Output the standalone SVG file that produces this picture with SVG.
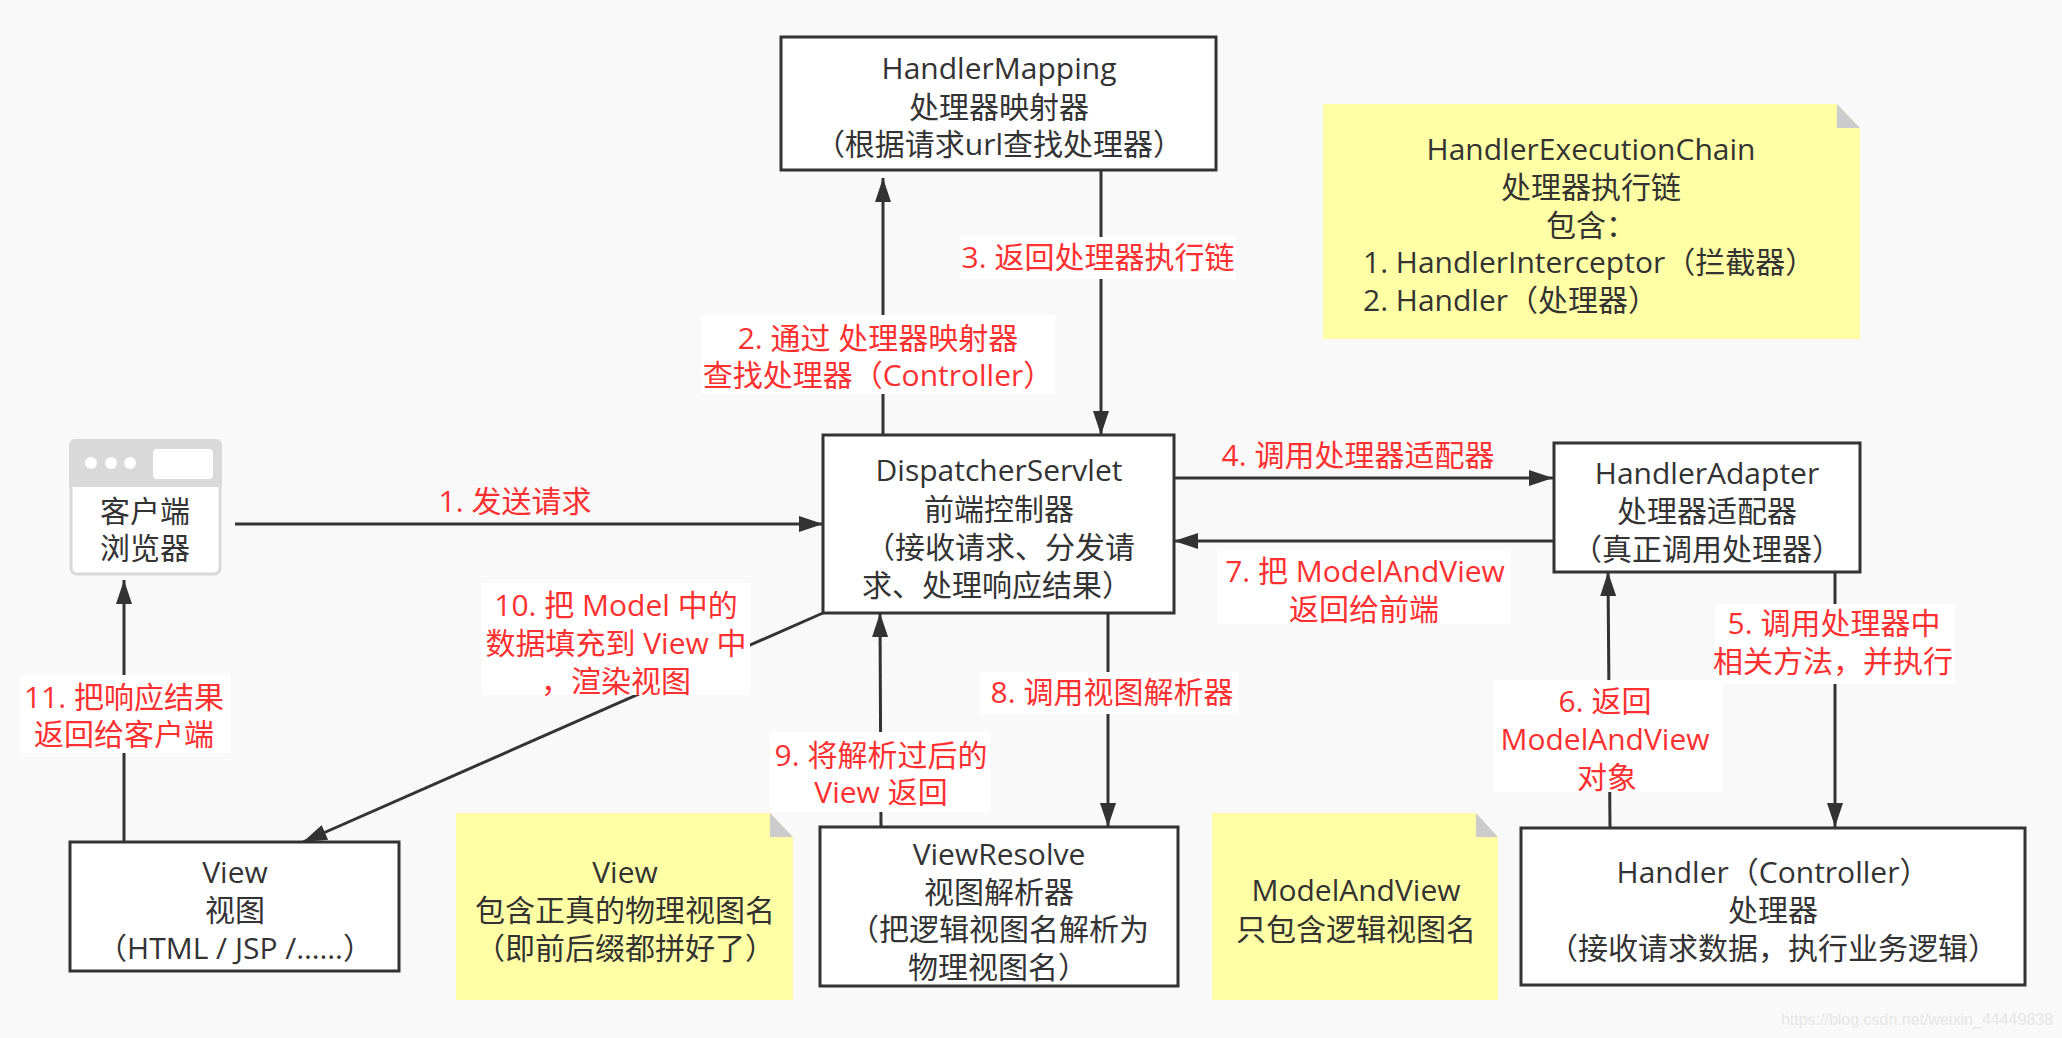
<svg xmlns="http://www.w3.org/2000/svg" width="2062" height="1038" viewBox="0 0 2062 1038">
<style>
text{font-family:"Open Sans","Noto Sans CJK SC",sans-serif;font-size:30px;text-anchor:middle}
.n{fill:#333}
.r{fill:#ff3030}
.box{fill:#fff;stroke:#333;stroke-width:3}
.note{fill:#ffffa6}
.fold{fill:#ccc}
.c{fill:none;stroke:#333;stroke-width:3}
.lb{fill:#fff}
</style>
<defs><marker id="a" markerUnits="userSpaceOnUse" markerWidth="24" markerHeight="16" refX="24" refY="8" viewBox="0 0 24 16" orient="auto"><path d="M0 0L24 8L0 16Z" fill="#333"/></marker></defs>
<rect width="2062" height="1038" fill="#f9f9f9"/>
<g id="connectors">
<path class="c" d="M235 524H823" marker-end="url(#a)"/>
<path class="c" d="M883 435V178" marker-end="url(#a)"/>
<path class="c" d="M1101 170V435" marker-end="url(#a)"/>
<path class="c" d="M1174 478H1553" marker-end="url(#a)"/>
<path class="c" d="M1553 541H1174" marker-end="url(#a)"/>
<path class="c" d="M1835 572V827" marker-end="url(#a)"/>
<path class="c" d="M1610 827L1608 572" marker-end="url(#a)"/>
<path class="c" d="M1108 613V827" marker-end="url(#a)"/>
<path class="c" d="M881 827L880 613" marker-end="url(#a)"/>
<path class="c" d="M823 613L303 842" marker-end="url(#a)"/>
<path class="c" d="M124 842V580" marker-end="url(#a)"/>
</g>
<g id="labels">
<text class="r" x="515" y="512">1. 发送请求</text>
<rect class="lb" x="701" y="315" width="354" height="79"/>
<text class="r" x="878" y="349">2. 通过 处理器映射器</text>
<text class="r" x="878" y="386">查找处理器（Controller）</text>
<rect class="lb" x="960" y="237" width="276" height="42"/>
<text class="r" x="1098" y="268">3. 返回处理器执行链</text>
<text class="r" x="1358" y="466">4. 调用处理器适配器</text>
<rect class="lb" x="1715" y="604" width="240" height="80"/>
<text class="r" x="1834" y="634">5. 调用处理器中</text>
<text class="r" x="1833" y="672">相关方法，并执行</text>
<rect class="lb" x="1493" y="680" width="230" height="112"/>
<text class="r" x="1605" y="712">6. 返回</text>
<text class="r" x="1605" y="750">ModelAndView</text>
<text class="r" x="1607" y="788">对象</text>
<rect class="lb" x="1218" y="550" width="292" height="74"/>
<text class="r" x="1365" y="582">7. 把 ModelAndView</text>
<text class="r" x="1364" y="620">返回给前端</text>
<rect class="lb" x="980" y="672" width="258" height="42"/>
<text class="r" x="1112" y="703">8. 调用视图解析器</text>
<rect class="lb" x="770" y="732" width="220" height="80"/>
<text class="r" x="881" y="766">9. 将解析过后的</text>
<text class="r" x="881" y="803">View 返回</text>
<rect class="lb" x="482" y="583" width="268" height="112"/>
<text class="r" x="616" y="616">10. 把 Model 中的</text>
<text class="r" x="616" y="654">数据填充到 View 中</text>
<text class="r" x="616" y="692">，渲染视图</text>
<rect class="lb" x="20" y="675" width="210" height="78"/>
<text class="r" x="124" y="708">11. 把响应结果</text>
<text class="r" x="124" y="745">返回给客户端</text>
</g>
<g id="handler-mapping">
<rect class="box" x="781" y="37" width="435" height="133"/>
<text class="n" x="999" y="79">HandlerMapping</text>
<text class="n" x="999" y="118">处理器映射器</text>
<text class="n" x="999" y="155">（根据请求url查找处理器）</text>
</g>
<g id="dispatcher-servlet">
<rect class="box" x="823" y="435" width="351" height="178"/>
<text class="n" x="999" y="481">DispatcherServlet</text>
<text class="n" x="999" y="520">前端控制器</text>
<text class="n" x="1000" y="558">（接收请求、分发请</text>
<text class="n" x="997" y="596">求、处理响应结果）</text>
</g>
<g id="handler-adapter">
<rect class="box" x="1554" y="443" width="306" height="129"/>
<text class="n" x="1707" y="484">HandlerAdapter</text>
<text class="n" x="1707" y="522">处理器适配器</text>
<text class="n" x="1707" y="560">（真正调用处理器）</text>
</g>
<g id="view">
<rect class="box" x="70" y="842" width="329" height="129"/>
<text class="n" x="235" y="883">View</text>
<text class="n" x="235" y="921">视图</text>
<text class="n" x="235" y="959">（HTML / JSP /……）</text>
</g>
<g id="view-resolve">
<rect class="box" x="820" y="827" width="358" height="159"/>
<text class="n" x="999" y="865">ViewResolve</text>
<text class="n" x="999" y="903">视图解析器</text>
<text class="n" x="999" y="940">（把逻辑视图名解析为</text>
<text class="n" x="998" y="978">物理视图名）</text>
</g>
<g id="handler">
<rect class="box" x="1521" y="828" width="504" height="157"/>
<text class="n" x="1773" y="883">Handler（Controller）</text>
<text class="n" x="1773" y="921">处理器</text>
<text class="n" x="1773" y="959">（接收请求数据，执行业务逻辑）</text>
</g>
<g id="browser">
<rect x="71" y="441" width="149" height="133" rx="6" fill="#fff" stroke="#d9d9d9" stroke-width="3"/>
<path d="M69 487V445a6 6 0 0 1 6-6H216a6 6 0 0 1 6 6V487Z" fill="#d9d9d9"/>
<circle cx="91" cy="463" r="6" fill="#fff"/><circle cx="111" cy="463" r="6" fill="#fff"/><circle cx="130" cy="463" r="6" fill="#fff"/>
<rect x="153" y="449" width="60" height="30" rx="4" fill="#fff"/>
<text class="n" x="145" y="522">客户端</text>
<text class="n" x="145" y="559">浏览器</text>
</g>
<g id="note-chain">
<path class="note" d="M1323 104H1837L1860 128V339H1323Z"/>
<path class="fold" d="M1837 104L1860 128H1837Z"/>
<text class="n" x="1591" y="160">HandlerExecutionChain</text>
<text class="n" x="1591" y="198">处理器执行链</text>
<text class="n" x="1591" y="236">包含：</text>
<text class="n" x="1363" y="273" style="text-anchor:start">1. HandlerInterceptor（拦截器）</text>
<text class="n" x="1363" y="311" style="text-anchor:start">2. Handler（处理器）</text>
</g>
<g id="note-view">
<path class="note" d="M456 813H770L793 837V1000H456Z"/>
<path class="fold" d="M770 813L793 837H770Z"/>
<text class="n" x="625" y="883">View</text>
<text class="n" x="625" y="921">包含正真的物理视图名</text>
<text class="n" x="625" y="959">（即前后缀都拼好了）</text>
</g>
<g id="note-model">
<path class="note" d="M1212 813H1476L1498 837V1000H1212Z"/>
<path class="fold" d="M1476 813L1498 837H1476Z"/>
<text class="n" x="1356" y="901">ModelAndView</text>
<text class="n" x="1356" y="940">只包含逻辑视图名</text>
</g>
<text x="1917" y="1025" style="font-family:'Liberation Sans',sans-serif;font-size:16px;fill:#e6e6e6">https://blog.csdn.net/weixin_44449838</text>
</svg>
